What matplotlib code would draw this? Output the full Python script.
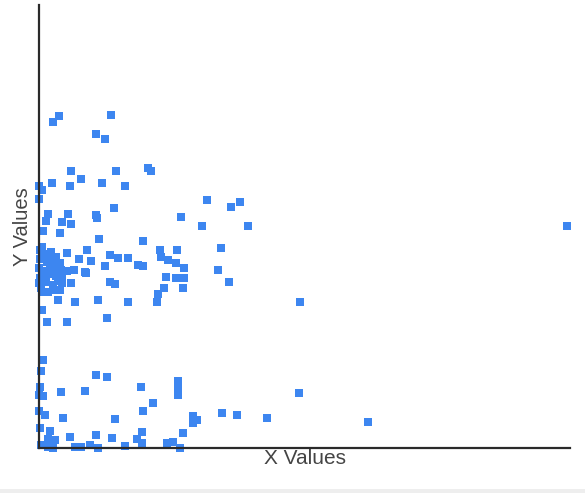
import matplotlib.pyplot as plt
from matplotlib.patches import Rectangle

# values (arbitrary units)
x_upper = [20, 14, 72, 57, 66, 32, 77, 109, 112, 42, 13, 31, 63, 86, 0, 3, 0, 75,
           9, 29, 57, 58, 7, 23, 32, 4, 21, 60, 104, 142, 163, 168, 201, 192, 209]
y_upper = [332, 326, 333, 314, 309, 277, 277, 280, 277, 269, 265, 262, 265, 262, 262, 258, 249, 240,
           234, 234, 233, 230, 227, 226, 224, 217, 215, 209, 207, 231, 222, 248, 246, 241, 222]

x_middle = [121, 138, 122, 129, 137, 145, 104, 127, 137, 145, 125, 144, 119, 118, 182, 179, 190, 261, 528,
            3, 28, 48, 40, 52, 71, 79, 89, 99, 66, 28, 47, 32, 71, 76, 19, 36, 59, 89, 3, 8, 28, 68,
            1, 6, 12, 17, 1, 8, 14, 21, 0, 5, 11, 18, 23, 1, 7, 14, 19, 2, 9, 16, 23, 21, 35, 46,
            5, 11, 0, 6, 17, 13, 22, 4]
y_middle = [198, 198, 191, 188, 185, 180, 182, 171, 170, 170, 160, 160, 154, 146, 200, 178, 166, 146, 222,
            201, 195, 198, 189, 187, 193, 190, 190, 183, 182, 177, 175, 165, 166, 164, 148, 146, 148, 146, 138, 126, 126, 130,
            198, 194, 196, 191, 189, 186, 183, 185, 180, 177, 174, 179, 172, 170, 166, 163, 167, 160, 156, 158, 165, 158, 178, 176,
            190, 180, 165, 173, 172, 190, 178, 156]

x_lower = [4, 2, 57, 68, 1, 0, 4, 22, 46, 102, 139, 139, 139, 114, 104, 0, 6, 24, 76, 154, 158, 154,
           1, 11, 103, 144, 57, 31, 73, 98, 103, 9, 16, 2, 9, 14, 36, 42, 51, 59, 86, 128, 134, 141,
           260, 183, 198, 228, 329]
y_lower = [88, 77, 73, 71, 61, 53, 52, 56, 57, 61, 67, 59, 53, 45, 37, 37, 33, 30, 29, 32, 28, 25,
           20, 17, 16, 15, 13, 11, 10, 9, 5, 9, 8, 3, 1, 0, 1, 1, 3, 0, 2, 5, 6, 0,
           55, 35, 33, 30, 26]

x_vals = x_upper + x_middle + x_lower
y_vals = y_upper + y_middle + y_lower

plt.rcParams['font.family'] = ['Liberation Sans', 'DejaVu Sans']

fig = plt.figure(figsize=(5.85, 4.93), dpi=100)
ax = fig.add_axes([39 / 585, 45 / 493, 531 / 585, 443 / 493])

ax.scatter(x_vals, y_vals, marker='s', s=40, color='#3d86f0', linewidths=0, clip_on=False)

ax.set_xlim(0, 531)
ax.set_ylim(0, 443)
ax.set_xticks([])
ax.set_yticks([])
for side in ['top', 'right']:
    ax.spines[side].set_visible(False)
for side in ['left', 'bottom']:
    ax.spines[side].set_color('#2a2a2a')
    ax.spines[side].set_linewidth(1.6)

ax.set_xlabel('X Values', fontsize=15, color='#444444', labelpad=1)
ax.set_ylabel('Y Values', fontsize=14.5, color='#444444', labelpad=5)

# light grey strip at the very bottom
fig.patches.append(Rectangle((0, 0), 1, 4 / 493, transform=fig.transFigure,
                             facecolor='#eeeeee', edgecolor='none'))

fig.savefig('out.png', dpi=100)
